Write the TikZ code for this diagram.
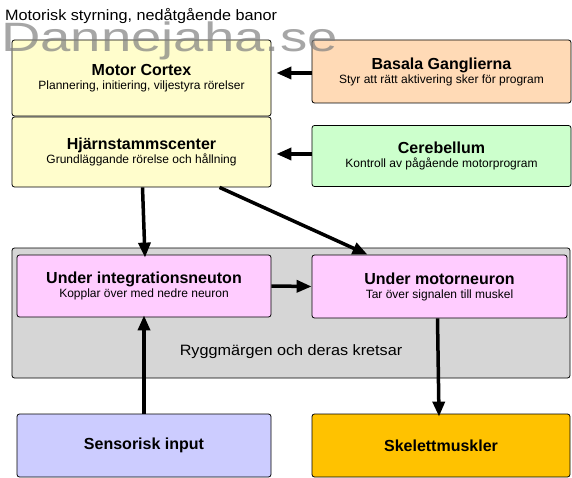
\documentclass[tikz,border=0pt]{standalone}
\usepackage{fontspec}
\setmainfont{Liberation Sans}
\usetikzlibrary{positioning,arrows.meta,calc}
\definecolor{cortexfill}{RGB}{255,253,204}
\definecolor{basalfill}{RGB}{255,218,182}
\definecolor{cerebfill}{RGB}{204,255,204}
\definecolor{neuronfill}{RGB}{255,204,255}
\definecolor{sensorfill}{RGB}{204,204,255}
\definecolor{musclefill}{RGB}{255,194,0}
\definecolor{spinefill}{RGB}{214,214,214}
\newcommand\boxtitle[1]{{\bfseries\fontsize{16}{16}\selectfont #1}}
\tikzset{
  area/.style={draw, rounded corners=2.5pt, line width=0.8pt, inner sep=0pt,
    align=center, font=\fontsize{12}{14}\selectfont},
  signal/.style={line width=3.5pt, -{Triangle[length=15pt,width=12pt]}}
}

\begin{document}
\begin{tikzpicture}[x=1pt,y=-1pt]
\useasboundingbox (0,0) rectangle (572,478);
% Title
\node[anchor=base west, inner sep=0pt, font=\fontsize{15}{15}\selectfont] (title) at (5,21) {\scalebox{1.08}[1]{Motorisk styrning, nedåtgående banor}};
% Brain boxes
\node[area, fill=cortexfill, minimum width=259pt, minimum height=76pt] (cortex) at (141.5,78) {\boxtitle{Motor Cortex}\\Plannering, initiering, viljestyra rörelser};
\node[area, fill=cortexfill, minimum width=259pt, minimum height=70pt] (stem) at (141.5,152) {\boxtitle{Hjärnstammscenter}\\Grundläggande rörelse och hållning};
\node[area, fill=basalfill, minimum width=259pt, minimum height=63pt] (basal) at (441.5,71.5) {\boxtitle{Basala Ganglierna}\\Styr att rätt aktivering sker för program};
\node[area, fill=cerebfill, minimum width=259pt, minimum height=61pt] (cereb) at (441.5,156) {\boxtitle{Cerebellum}\\Kontroll av pågående motorprogram};
% Spinal cord
\node[area, fill=spinefill, minimum width=558pt, minimum height=130pt] (spine) at (291,313) {};
\node[font=\fontsize{15}{15}\selectfont] (spinelabel) at (291,352) {\scalebox{1.08}[1]{Ryggmärgen och deras kretsar}};
\node[area, fill=neuronfill, minimum width=254pt, minimum height=62pt] (integ) at (144,286) {\boxtitle{Under integrationsneuton}\\Kopplar över med nedre neuron};
\node[area, fill=neuronfill, minimum width=255pt, minimum height=63pt] (motor) at (439.5,286.5) {\boxtitle{Under motorneuron}\\Tar över signalen till muskel};
% Periphery
\node[area, fill=sensorfill, minimum width=254pt, minimum height=63pt] (sensor) at (144,445.5) {\boxtitle{Sensorisk input}};
\node[area, fill=musclefill, minimum width=258pt, minimum height=63pt] (muscle) at (441,445.5) {\boxtitle{Skelettmuskler}};
% Signals
\draw[signal, shorten >=5pt] ([yshift=-1.5pt]basal.west) -- ([yshift=-1.5pt]basal.west -| cortex.east);
\draw[signal, shorten >=5pt] ([yshift=2pt]cereb.west) -- ([yshift=2pt]cereb.west -| stem.east);
\draw[signal] ([xshift=1pt]stem.south) -- ([xshift=1pt,yshift=-3pt]integ.north);
\draw[signal] ($(stem.south)+(78,0)$) -- ($(motor.north)+(-72,0)$);
\draw[signal] (integ.east) -- (motor.west);
\draw[signal] (sensor.north) -- ([yshift=2pt]integ.south);
\draw[signal] ([xshift=-2pt]motor.south) -- ([xshift=-2pt,yshift=-3pt]muscle.north);
% Watermark
\node[anchor=base west, inner sep=0pt, text=gray, opacity=0.7, font=\fontsize{41}{41}\selectfont] (watermark) at (1,52) {\scalebox{1.33}[1]{Dannejaha.se}};
\end{tikzpicture}
\end{document}
